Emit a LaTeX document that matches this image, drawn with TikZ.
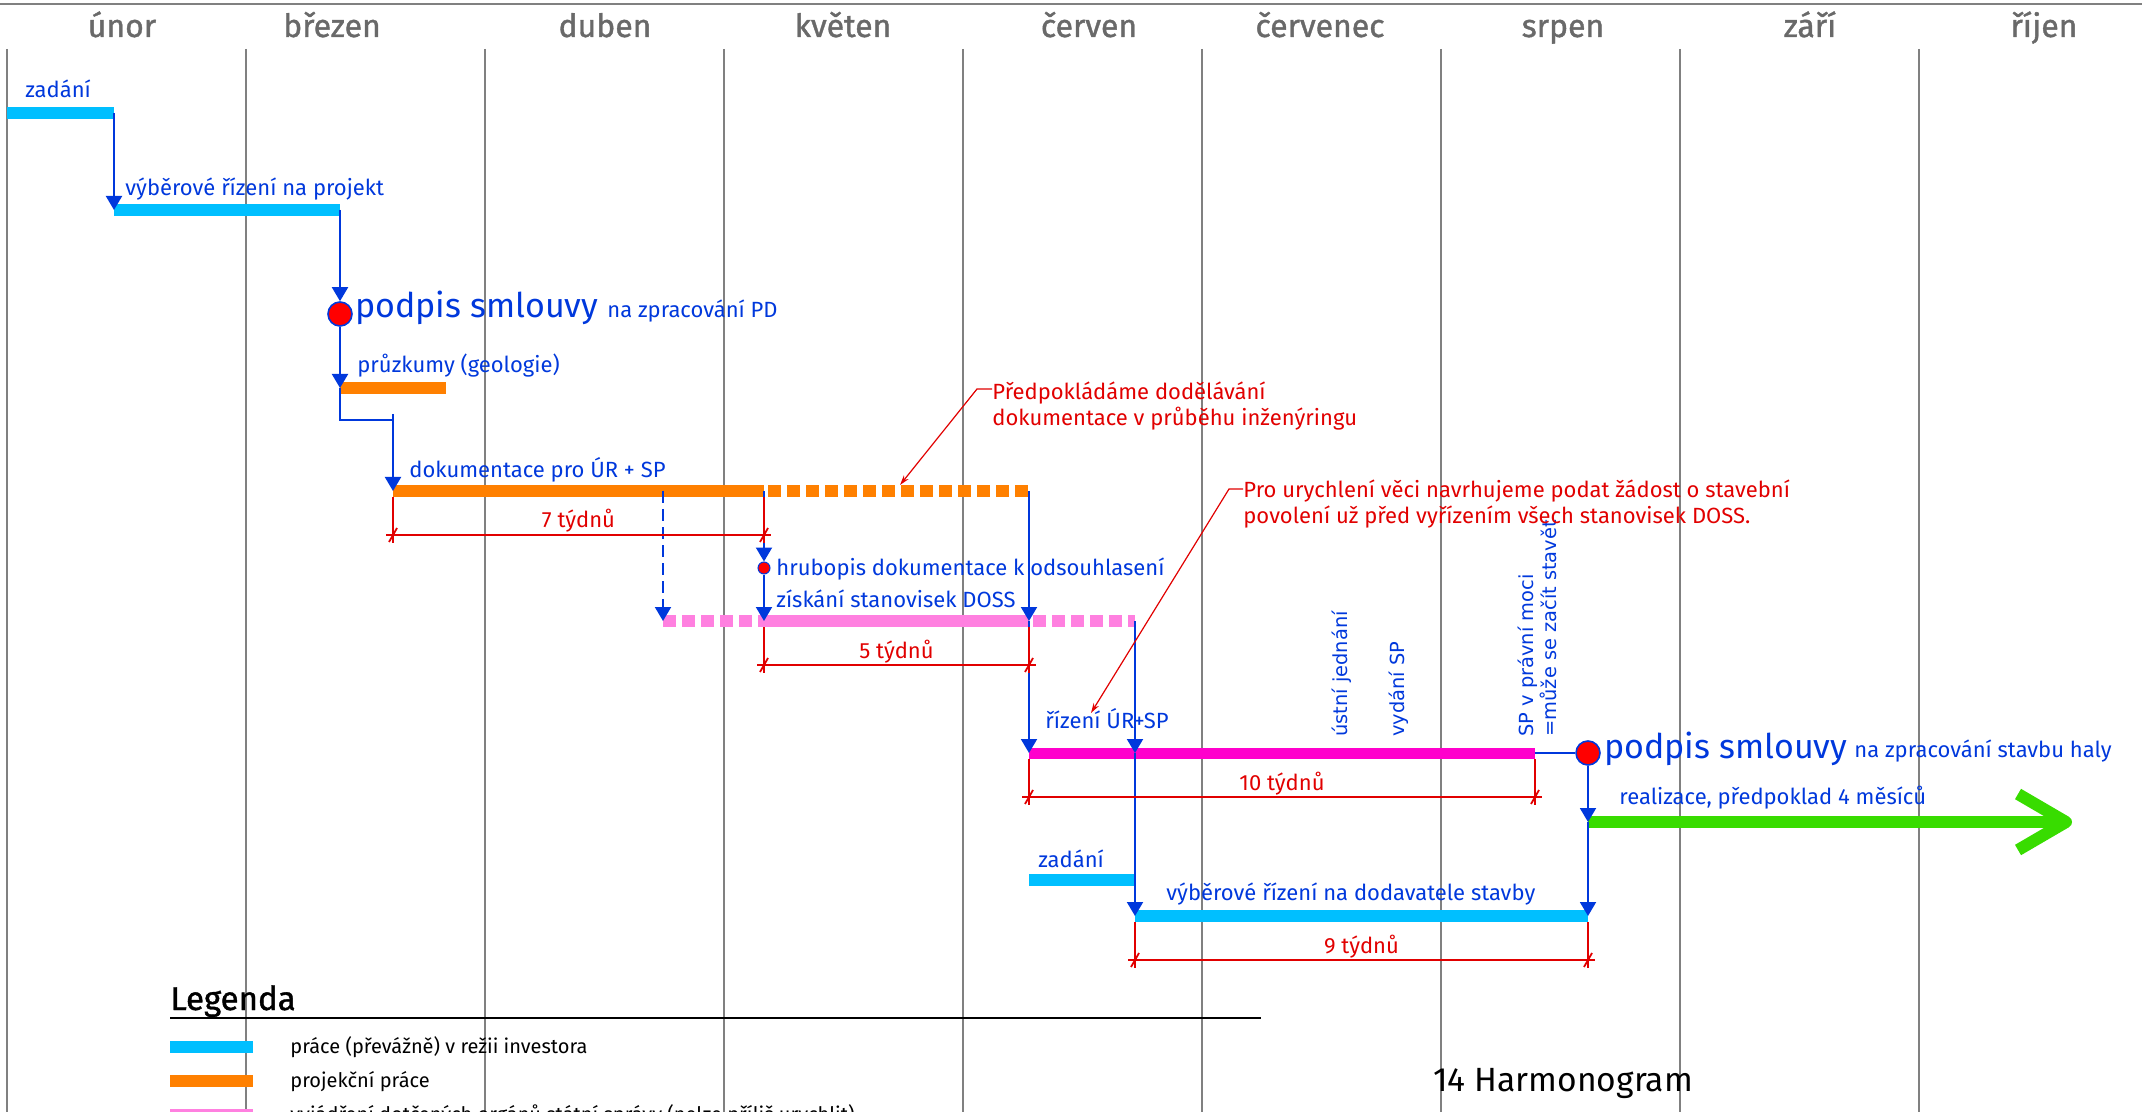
\documentclass[tikz,border=0pt]{standalone}
\usepackage{fontspec}
\setmainfont{Fira Sans}
\newfontfamily\rotfont{DejaVu Sans}
\newfontfamily\heavyfont[FakeBold = 1.2]{Fira Sans}
\usetikzlibrary{arrows.meta}
\usetikzlibrary{calc}
\definecolor{mblue}{RGB}{0, 56, 220}
\definecolor{mcyan}{RGB}{0, 191, 255}
\definecolor{morange}{RGB}{255, 128, 0}
\definecolor{mpink}{RGB}{255, 128, 224}
\definecolor{mmagenta}{RGB}{255, 0, 204}
\definecolor{mgreen}{RGB}{56, 220, 0}
\definecolor{mred}{RGB}{225, 0, 0}
\definecolor{mgray}{RGB}{128, 128, 128}
\definecolor{mtext}{RGB}{105, 105, 105}
\tikzset{
  grid line/.style = {mgray, line width = 1pt},
  month/.style = {mtext, font = \heavyfont\fontsize{16}{18}\selectfont, anchor = base, inner sep = 0},
  task/.style = {mblue, font = \fontsize{11}{13}\selectfont, anchor = base west, inner sep = 0},
  bigtext/.style = {mblue, font = \fontsize{17}{20}\selectfont, anchor = base west, inner sep = 0},
  note/.style = {mred, font = \fontsize{11}{13}\selectfont, align = left, anchor = north west, inner sep = 0},
  rotlabel/.style = {mblue, font = \rotfont\fontsize{9.7}{11}\selectfont, rotate = 90, anchor = mid west, inner sep = 0},
  legtext/.style = {font = \fontsize{10}{12}\selectfont, anchor = base west, inner sep = 0},
  ganttbar/.style = {line width = 6pt},
  dashbar/.style = {line width = 6pt, dash pattern = on 6.5pt off 3pt},
  link/.style = {mblue, line width = 1pt, -{Triangle[length = 7pt, width = 8pt]}},
  wire/.style = {mblue, line width = 1pt},
  circ/.style = {circle, fill = red, draw = mblue, line width = 0.8pt, inner sep = 0, minimum size = 12pt},
  smalldot/.style = {circle, fill = red, draw = mblue, line width = 0.5pt, inner sep = 0, minimum size = 6pt},
  leader/.style = {mred, line width = 0.6pt, -{Stealth[length = 5pt, width = 3pt]}},
  dimred/.style = {mred, line width = 0.9pt},
  dimlabel/.style = {mred, font = \fontsize{11}{13}\selectfont, anchor = base, inner sep = 0}
}
\newcommand{\dimspan}[4]{%
  \draw [dimred] (#1) ++(0, 6) -- ++(0, 46);
  \draw [dimred] (#2) ++(0, 6) -- ++(0, 46);
  \draw [dimred] ($(#1) + (-7, 44)$) -- ($(#2) + (7, 44)$);
  \draw [dimred] ($(#1) + (-4, 51)$) -- ++(8, -14);
  \draw [dimred] ($(#2) + (-4, 51)$) -- ++(8, -14);
  \node [dimlabel] (#4) at ($(#1)!0.5!(#2) + (0, 37)$) {#3};
}

\begin{document}
\begin{tikzpicture}[x = 0.5pt, y = -0.5pt]
  \useasboundingbox (0, 0) rectangle (2142, 1112);
  \draw [grid line] (0, 4) -- (2142, 4);
  \foreach \x in {7, 246, ..., 1919}
    \draw [grid line] (\x, 49) -- (\x, 1112);
  \foreach \x/\m [count = \i] in {122/únor, 332/březen, 605/duben, 843/květen, 1089/červen, 1320/červenec, 1563/srpen, 1810/září, 2044/říjen}
    \node [month] (m\i) at (\x, 37) {\m};

  \coordinate (zad1-s) at (7, 113);
  \coordinate (zad1-e) at (114, 113);
  \coordinate (vyb1-s) at (114, 210);
  \coordinate (vyb1-e) at (340, 210);
  \coordinate (pru-s) at (340, 388);
  \coordinate (pru-e) at (446, 388);
  \coordinate (kink) at (393, 420);
  \coordinate (dok-top) at (393, 414);
  \coordinate (dok-s) at (393, 491);
  \coordinate (dok-m) at (764, 491);
  \coordinate (dok-e) at (1029, 491);
  \coordinate (doss-s) at (663, 621);
  \coordinate (doss-m) at (764, 621);
  \coordinate (doss-n) at (1029, 621);
  \coordinate (doss-e) at (1135, 621);
  \coordinate (riz-s) at (1029, 753);
  \coordinate (riz-m) at (1135, 753);
  \coordinate (riz-e) at (1535, 753);
  \coordinate (zad2-s) at (1029, 880);
  \coordinate (zad2-e) at (1135, 880);
  \coordinate (dod-s) at (1135, 916);
  \coordinate (dod-e) at (1588, 916);
  \coordinate (real-s) at (1588, 822);
  \coordinate (real-e) at (2066, 822);
  \coordinate (tip1) at (900, 485);
  \coordinate (tip2) at (1091, 713);

  \draw [ganttbar, mcyan] (zad1-s) -- (zad1-e);
  \draw [ganttbar, mcyan] (vyb1-s) -- (vyb1-e);
  \draw [ganttbar, morange] (pru-s) -- (pru-e);
  \draw [ganttbar, morange] (dok-s) -- (dok-m);
  \draw [dashbar, morange] ([xshift = 2pt] dok-m) -- (dok-e);
  \draw [dashbar, mpink] (doss-s) -- (doss-m);
  \draw [ganttbar, mpink] (doss-m) -- (doss-n);
  \draw [dashbar, mpink] ([xshift = 2pt] doss-n) -- (doss-e);
  \draw [ganttbar, mmagenta, line width = 5.5pt] (riz-s) -- (riz-e);
  \draw [ganttbar, mcyan] (zad2-s) -- (zad2-e);
  \draw [ganttbar, mcyan] (dod-s) -- (dod-e);
  \draw [ganttbar, mgreen] (real-s) -- (real-e);
  \draw [ganttbar, mgreen, line join = round] (real-e) ++(-48, -28) -- (real-e) -- ++(-48, 28);

  \node [circ] (pod1) at (340, 314) {};
  \node [circ] (pod2) at (1588, 753) {};
  \node [smalldot] (hdot) at (764, 568) {};

  \node [task] (l-zad1) at (25, 98) {zadání};
  \node [task] (l-vyb1) at (125, 196) {výběrové řízení na projekt};
  \node [bigtext] (l-pod1) at (355, 318) {podpis smlouvy};
  \node [task] (l-pod1b) at (607, 318) {na zpracování PD};
  \node [task] (l-pru) at (357, 373) {průzkumy (geologie)};
  \node [task] (l-dok) at (409, 478) {dokumentace pro ÚR + SP};
  \node [task] (l-hru) at (776, 575) {hrubopis dokumentace k odsouhlasení};
  \node [task] (l-doss) at (776, 607) {získání stanovisek DOSS};
  \node [task] (l-riz) at (1045, 728) {řízení ÚR+SP};
  \node [rotlabel] (l-ust) at (1342, 737) {ústní jednání};
  \node [rotlabel] (l-vyd) at (1399, 737) {vydání SP};
  \node [rotlabel] (l-moc) at (1528, 737) {SP v právní moci};
  \node [rotlabel] (l-moc2) at (1551, 737) {=může se začít stavět};
  \node [bigtext] (l-pod2) at (1604, 758) {podpis smlouvy};
  \node [task] (l-pod2b) at (1854, 757) {na zpracování stavbu haly};
  \node [task] (l-real) at (1619, 804) {realizace, předpoklad 4 měsíců};
  \node [task] (l-zad2) at (1038, 867) {zadání};
  \node [task] (l-dod) at (1166, 900) {výběrové řízení na dodavatele stavby};
  \node [note] (note1) at (992, 381) {Předpokládáme dodělávání\\dokumentace v průběhu inženýringu};
  \node [note] (note2) at (1243, 479) {Pro urychlení věci navrhujeme podat žádost o stavební\\povolení už před vyřízením všech stanovisek DOSS.};

  \draw [link] (zad1-e) -- (vyb1-s);
  \draw [link] (vyb1-e) -- (pod1);
  \draw [link] (pod1) -- (pru-s);
  \draw [wire] (pru-s) |- (kink);
  \draw [link] (dok-top) -- (dok-s);
  \draw [link, dash pattern = on 6pt off 3pt] (doss-s |- dok-s) -- (doss-s);
  \draw [link] (dok-m) -- (hdot);
  \draw [link] (hdot) -- (doss-m);
  \draw [link] (dok-e) -- (doss-n);
  \draw [link] (doss-n) -- (riz-s);
  \draw [link] (doss-e) -- (riz-m);
  \draw [link] (riz-m) -- (dod-s);
  \draw [wire] (riz-e) -- (pod2);
  \draw [link] (pod2) -- (real-s);
  \draw [link] (real-s) -- (dod-e);
  \draw [leader] ([yshift = -4pt] note1.north west) -- ++(-15, 0) -- (tip1);
  \draw [leader] ([yshift = -5pt] note2.north west) -- ++(-14, 0) -- (tip2);

  \dimspan{dok-s}{dok-m}{7 týdnů}{d7}
  \dimspan{doss-m}{doss-n}{5 týdnů}{d5}
  \dimspan{riz-s}{riz-e}{10 týdnů}{d10}
  \dimspan{dod-s}{dod-e}{9 týdnů}{d9}

  \node [legtext, font = \heavyfont\fontsize{16.5}{19}\selectfont] (leg) at (170, 1010) {Legenda};
  \draw [line width = 1pt] (leg.base west) ++(0, 8) -- ++(1091, 0);
  \foreach \y/\c/\t [count = \i] in {1047/mcyan/{práce (převážně) v režii investora}, 1081/morange/{projekční práce}, 1115/mpink/{vyjádření dotčených orgánů státní správy (nelze příliš urychlit)}} {
    \draw [ganttbar, \c] (170, \y) -- (253, \y);
    \node [legtext] (leg\i) at (290, \y + 6) {\t};
  }
  \node [legtext, font = \fontsize{16.8}{19}\selectfont] (title) at (1433, 1091) {14 Harmonogram};
\end{tikzpicture}
\end{document}
